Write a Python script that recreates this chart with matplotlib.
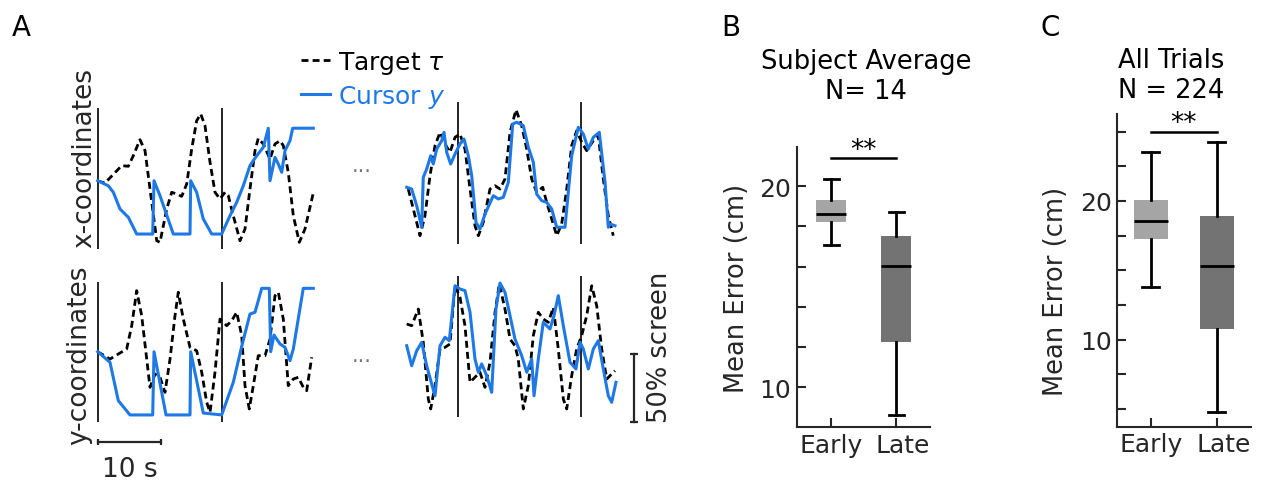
import numpy as np
import matplotlib.pyplot as plt
from matplotlib.ticker import MultipleLocator
from matplotlib.transforms import ScaledTranslation

# ---------------- panel A: example trajectories ----------------
# time in s, position in % of screen (0 = centre)

# early trials, x-coordinate
early_x_target_t = [0.0, 1.16, 3.81, 4.86, 5.65, 6.71, 7.51, 9.37, 9.89, 10.95, 11.75, 12.54, 13.33,
                    14.13, 14.92, 15.71, 16.35, 17.03, 17.83, 18.62, 19.41, 20.21, 20.73, 21.52, 22.59,
                    23.38, 24.17, 24.97, 25.49, 26.29, 27.35, 28.14, 28.94, 29.46, 30.25, 31.05, 32.0,
                    32.9, 34.22]
early_x_target = [0, -1.5, 11.3, 10.8, 18.6, 30.4, 22.3, -43.9, -45.1, -20.6, -8.3, -9.6, -11.3,
                  -2.2, 23.5, 44.3, 49.3, 40.7, 13.8, -8.3, -13.2, -8.3, -10.8, -25.5, -43.9,
                  -35.3, -5.9, 22.3, 31.4, 27.2, 16.2, 27.2, 29.6, 26.0, 6.4, -25.5, -45.1,
                  -35.3, -8.8]
early_x_cursor_t = [0, 1.68, 2.48, 3.54, 4.86, 6.19, 8.73, 8.94, 9.89, 12.0, 14.65, 14.76, 15.71,
                    16.76, 18.1, 19.68, 21.0, 22.06, 23.11, 24.17, 25.24, 26.29, 27.08, 27.35, 28.14,
                    28.67, 29.21, 29.73, 30.52, 30.95, 34.22]
early_x_cursor = [0.2, -3.5, -8.3, -20.6, -26.7, -39.0, -39.0, 0.2, -10.8, -39.0, -39.0, 0.2, -8.3,
                  -27.9, -39.0, -39.0, -25.5, -15.7, -3.5, 11.3, 18.6, 24.8, 38.8, 0.2, 17.4,
                  12.5, 6.4, 22.3, 29.6, 38.8, 38.8]

# early trials, y-coordinate
early_y_target_t = [0, 1.95, 3.27, 4.6, 5.4, 6.19, 6.98, 7.78, 8.3, 9.1, 9.89, 10.68, 11.48, 12.27,
                    12.79, 13.59, 14.65, 15.71, 16.51, 17.3, 17.83, 18.62, 19.41, 20.48, 21.27, 22.06,
                    22.86, 23.38, 24.06, 24.7, 25.49, 26.56, 27.35, 28.14, 28.67, 29.46, 30.25, 31.05,
                    31.84, 32.63, 33.17, 33.97]
early_y_target = [0, -5.4, -1.7, 2.0, 19.1, 44.9, 26.5, -5.4, -26.2, -16.4, -18.8, -29.9, -5.4, 26.5,
                  43.7, 24.0, 3.2, 0.7, -15.1, -37.2, -44.6, -15.1, 24.0, 19.1, 22.8, 29.0,
                  11.8, -25.0, -42.1, -25.0, -2.9, -2.9, 9.3, 41.2, 43.7, 24.0, -25.0, -20.1,
                  -18.8, -26.2, -28.7, -4.1]
early_y_cursor_t = [0, 1.95, 3.27, 5.13, 8.73, 8.94, 10.84, 14.65, 14.76, 16.76, 19.68, 21.52, 22.86,
                    24.17, 24.97, 26.03, 27.24, 27.46, 27.98, 28.94, 29.73, 30.52, 31.05, 32.63, 34.22]
early_y_cursor = [0, -7.8, -36.0, -46.5, -46.5, 0, -46.5, -46.5, 0, -45.1, -46.5, -22.5, 4.0,
                  27.7, 29.0, 46.6, 46.6, 0, 12.3, 5.7, 3.2, -6.6, 2.0, 46.6, 46.6]

# late trials, x-coordinate
late_x_target_t = [0.25, 1.05, 2.11, 2.9, 3.7, 4.49, 5.29, 6.08, 6.87, 7.67, 8.46, 9.25, 10.05, 10.84,
                   11.37, 12.16, 13.22, 14.02, 14.81, 15.6, 16.4, 17.35, 18.25, 19.05, 19.84, 20.63,
                   21.59, 22.22, 23.02, 23.81, 24.6, 25.4, 26.19, 26.98, 27.78, 28.57, 29.62, 30.41,
                   31.21, 32.0, 32.79]
late_x_target = [-5.9, -20.6, -40.2, -25.5, 3.9, 26.0, 35.8, 27.2, 21.1, 32.1, 34.6, 23.5, -5.9, -32.9,
                 -40.2, -30.4, -5.9, -3.5, -5.9, 1.5, 35.8, 52.4, 40.7, 23.5, 1.5, -8.3,
                 -4.6, -15.7, -27.9, -40.2, -31.6, -5.9, 26.0, 37.0, 28.5, 22.3, 29.6, 33.3,
                 1.5, -25.5, -40.2]
late_x_cursor_t = [0, 0.79, 1.59, 2.38, 2.63, 3.17, 3.81, 4.22, 4.76, 5.56, 5.92, 6.35, 6.98, 7.67,
                   8.46, 9.1, 9.78, 10.32, 11.0, 11.63, 12.43, 13.75, 14.54, 15.33, 16.13, 16.83,
                   17.46, 18.51, 19.3, 20.1, 20.63, 21.43, 22.22, 23.02, 23.81, 25.13, 26.19, 27.24,
                   28.03, 28.83, 29.62, 30.57, 31.48, 32.0, 32.27, 33.06]
late_x_cursor = [-4.6, -5.9, -18.2, -34.0, 2.7, 8.8, 18.6, 12.5, 23.5, 29.6, 35.8, 21.1, 12.5, 19.9,
                 27.2, 30.9, 18.6, 3.9, -30.4, -35.3, -24.3, -10.8, -13.2, -12.0, -1.0, 41.9,
                 43.2, 40.7, 24.8, 13.8, -9.6, -14.5, -15.7, -20.6, -34.0, -34.0, 18.6, 39.5,
                 34.6, 23.5, 32.1, 35.8, -1.0, -34.0, -31.6, -32.9]

# late trials, y-coordinate
late_y_target_t = [0, 0.79, 1.84, 2.63, 3.43, 3.81, 4.49, 5.29, 6.08, 6.87, 7.67, 8.46, 9.25, 10.05,
                   10.84, 11.63, 12.43, 13.22, 14.02, 14.7, 15.6, 16.4, 17.19, 17.71, 18.51, 19.3,
                   20.1, 20.89, 21.68, 22.48, 23.27, 24.06, 24.86, 25.4, 26.19, 26.98, 27.78, 28.57,
                   29.37, 30.16, 30.95, 31.75, 32.54, 33.06]
late_y_target = [20.4, 19.1, 31.4, 6.9, -34.8, -42.1, -25.0, 2.0, 3.2, 5.7, 48.5, 40.0, 19.1, -22.5,
                 -18.8, -15.1, -26.2, -7.8, 29.0, 49.8, 31.4, 9.3, 4.4, -5.4, -42.1, -25.0,
                 11.8, 29.0, 24.0, 21.6, 32.6, 2.0, -34.8, -42.1, -17.6, 2.0, 11.8, 26.5,
                 48.5, 33.8, 2.0, -20.1, -16.4, -14.0]
late_y_cursor_t = [0, 0.79, 1.59, 2.38, 3.17, 3.97, 4.49, 5.29, 6.08, 6.76, 7.67, 8.46, 9.25, 10.05,
                   10.84, 11.37, 11.9, 12.7, 13.49, 14.17, 14.81, 15.6, 16.4, 17.19, 18.25, 19.05,
                   19.84, 20.21, 20.89, 21.68, 22.75, 23.38, 24.06, 24.86, 25.92, 26.87, 27.51, 28.03,
                   28.83, 29.62, 30.41, 31.21, 32.0, 32.54, 33.22]
late_y_cursor = [4.4, -10.3, 0.7, 6.9, -10.3, -23.8, -32.4, 4.4, 10.6, 8.1, 48.5, 46.1, 44.9, 29.0,
                 -5.4, -15.1, -9.0, -17.6, -29.9, 31.4, 50.5, 43.7, 26.5, 9.3, -2.9, -15.1,
                 -5.4, -32.4, -5.4, 21.6, 16.7, 26.5, 41.2, 19.1, -7.8, -12.7, 6.9, 2.0,
                 -12.7, 2.0, 8.1, -12.7, -32.4, -37.2, -22.5]

# trial boundaries (s)
early_bounds = [0, 19.68]
late_bounds = [8.1, 27.62]

# ---------------- panels B and C: mean error (cm) ----------------
groups = ['Early', 'Late']
subj_med = [18.62, 16.02]
subj_q1 = [18.24, 12.24]
subj_q3 = [19.32, 17.51]
subj_lo = [17.1, 8.64]
subj_hi = [20.36, 18.71]

trial_med = [18.54, 15.34]
trial_q1 = [17.28, 10.77]
trial_q3 = [20.05, 18.95]
trial_lo = [13.78, 4.81]
trial_hi = [23.51, 24.28]

W, H = 1261, 481
BLUE = '#1e78e6'
DARK = '#262626'
FS = 18.5

fig = plt.figure(figsize=(W / 100, H / 100), dpi=100)


def px_axes(x0, y0, x1, y1):
    return fig.add_axes([x0 / W, 1 - y1 / H, (x1 - x0) / W, (y1 - y0) / H])


def traj_panel(box, tt, tv, ct, cv, bounds, vspan):
    ax = px_axes(*box)
    ax.axis('off')
    ax.set_xlim(-1, 35)
    ax.set_ylim(-55, 60)
    ax.vlines(bounds, vspan[0], vspan[1], color='k', lw=1.2)
    lt, = ax.plot(tt, tv, color='k', lw=2, ls=(0, (2.5, 1.5)))
    lc, = ax.plot(ct, cv, color=BLUE, lw=2.2)
    return ax, lt, lc


ax_tl, h_target, h_cursor = traj_panel((91.4, 100.4, 318.2, 256.8), early_x_target_t, early_x_target,
                                       early_x_cursor_t, early_x_cursor, early_bounds, (-50, 53.5))
ax_bl, _, _ = traj_panel((91.4, 271.1, 318.2, 427.5), early_y_target_t, early_y_target,
                         early_y_cursor_t, early_y_cursor, early_bounds, (-51.9, 51.5))
ax_tr, _, _ = traj_panel((400.4, 100.4, 627.2, 256.8), late_x_target_t, late_x_target,
                         late_x_cursor_t, late_x_cursor, late_bounds, (-46.3, 57.9))
ax_br, _, _ = traj_panel((400.4, 271.1, 627.2, 427.5), late_y_target_t, late_y_target,
                         late_y_cursor_t, late_y_cursor, late_bounds, (-48.2, 55.9))

# scale bars
ax_bl.plot([0, 10], [-66.6, -66.6], color=DARK, lw=1.6, marker='|', ms=5, mew=1.6, clip_on=False)
ax_br.plot([36, 36], [-1.7, -51.7], color=DARK, lw=1.6, marker='_', ms=6, mew=1.6, clip_on=False)
fig.text(130 / W, 1 - 476.7 / H, '10 s', fontsize=19, color=DARK, ha='center', va='baseline')
fig.text(660 / W, 1 - 347.5 / H, '50% screen', fontsize=FS, color=DARK, rotation=90,
         ha='center', va='center')

fig.text(84.5 / W, 1 - 158.3 / H, 'x-coordinates', fontsize=19, color=DARK, rotation=90,
         ha='center', va='center')
fig.text(79.5 / W, 1 - 355 / H, 'y-coordinates', fontsize=19, color=DARK, rotation=90,
         ha='center', va='center')
for yy in (172.5, 362.5):
    fig.text(362 / W, 1 - yy / H, '...', fontsize=15, color='#777777', ha='center', va='baseline')

fig.legend([h_target, h_cursor], [r'Target $\tau$', r'Cursor $y$'], loc='upper left',
           bbox_to_anchor=(301 / W, 1 - 50 / H), frameon=False, fontsize=18,
           labelcolor='linecolor', handlelength=1.15, handletextpad=0.35,
           borderpad=0, borderaxespad=0, labelspacing=0.28)


def box_panel(box, xlim, ylim, med, q1, q3, lo, hi, width, minor, sig_y):
    ax = px_axes(*box)
    stats = [dict(med=med[i], q1=q1[i], q3=q3[i], whislo=lo[i], whishi=hi[i], label=groups[i])
             for i in range(len(groups))]
    bp = ax.bxp(stats, positions=[1, 2], widths=width, patch_artist=True, showfliers=False,
                boxprops=dict(linewidth=0),
                medianprops=dict(color='k', lw=2),
                whiskerprops=dict(color='k', lw=2),
                capprops=dict(color='k', lw=2))
    for patch, c in zip(bp['boxes'], ['#a5a5a5', '#737373']):
        patch.set_facecolor(c)
    ax.set_xlim(*xlim)
    ax.set_ylim(*ylim)
    ax.yaxis.set_major_locator(MultipleLocator(10))
    ax.yaxis.set_minor_locator(MultipleLocator(minor))
    for s in ['top', 'right']:
        ax.spines[s].set_visible(False)
    for s in ['left', 'bottom']:
        ax.spines[s].set_linewidth(1.5)
        ax.spines[s].set_color(DARK)
    ax.tick_params(which='both', direction='in', length=6.5, width=1.5, color=DARK,
                   labelsize=18, labelcolor=DARK, pad=4)
    # the "Late" label sits a little right of its tick in the original
    lab = ax.get_xticklabels()[1]
    lab.set_transform(lab.get_transform() + ScaledTranslation(7 / 100, 0, fig.dpi_scale_trans))
    ax.set_ylabel('Mean Error (cm)', fontsize=FS, color=DARK)
    ax.plot([1, 2], [sig_y, sig_y], color='k', lw=1.8, clip_on=False)
    ax.annotate('**', (1.5, sig_y), xytext=(0, -3), textcoords='offset points',
                fontsize=19, ha='center', va='bottom', annotation_clip=False)
    return ax


ax_b = box_panel((796.7, 148.3, 930, 428.3), (0.47, 2.52), (8.01, 21.94),
                 subj_med, subj_q1, subj_q3, subj_lo, subj_hi, 0.47, 2, 21.39)
ax_b.yaxis.set_label_coords(-0.35, 0.5)
ax_c = box_panel((1117.3, 115, 1250.7, 427.7), (0.494, 2.515), (3.73, 26.27),
                 trial_med, trial_q1, trial_q3, trial_lo, trial_hi, 0.52, 2.5, 24.95)
ax_c.yaxis.set_label_coords(-0.36, 0.435)

# multi-line text: va='baseline' anchors the last line
fig.text(866 / W, 1 - 99 / H, 'Subject Average\nN= 14', fontsize=FS, ha='center',
         va='baseline', multialignment='center')
fig.text(1171 / W, 1 - 98.3 / H, 'All Trials\nN = 224', fontsize=FS, ha='center',
         va='baseline', multialignment='center')

for x, lab in [(12, 'A'), (721, 'B'), (1041, 'C')]:
    fig.text(x / W, 1 - 36.5 / H, lab, fontsize=20, ha='left', va='baseline')

fig.savefig('out.png', dpi=100)
